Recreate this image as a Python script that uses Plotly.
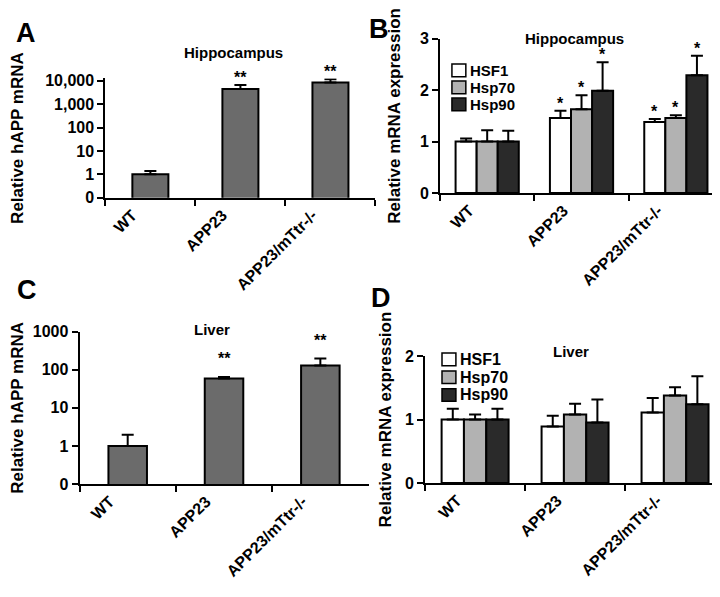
import math
import plotly.graph_objects as go

# ---------------- data ----------------
categories = ["WT", "APP23", "APP23/mTtr-/-"]
series_names = ["HSF1", "Hsp70", "Hsp90"]

# Panel A: hippocampus, relative hAPP mRNA (log scale)
hipp_happ = [1.0, 4500, 8500]
hipp_happ_err = [0.38, 2100, 3200]
hipp_happ_sig = ["", "**", "**"]

# Panel C: liver, relative hAPP mRNA (log scale)
liver_happ = [1.0, 59, 130]
liver_happ_err = [0.97, 6, 68]
liver_happ_sig = ["", "**", "**"]

# Panel B: hippocampus, relative mRNA expression
hipp_hsf1 = [1.00, 1.46, 1.38]
hipp_hsf1_err = [0.06, 0.14, 0.06]
hipp_hsp70 = [1.00, 1.63, 1.46]
hipp_hsp70_err = [0.22, 0.27, 0.05]
hipp_hsp90 = [1.00, 1.99, 2.29]
hipp_hsp90_err = [0.21, 0.55, 0.38]
hipp_hsp_sig = ["", "*", "*"]

# Panel D: liver, relative mRNA expression
liver_hsf1 = [1.00, 0.89, 1.11]
liver_hsf1_err = [0.17, 0.17, 0.23]
liver_hsp70 = [1.00, 1.08, 1.38]
liver_hsp70_err = [0.08, 0.17, 0.13]
liver_hsp90 = [1.00, 0.955, 1.24]
liver_hsp90_err = [0.17, 0.36, 0.44]

tickvals_A = [0.1, 1, 10, 100, 1000, 10000]
ticktext_A = ["0", "1", "10", "100", "1,000", "10,000"]
tickvals_C = [0.1, 1, 10, 100, 1000]
ticktext_C = ["0", "1", "10", "100", "1000"]
tickvals_B = [0, 1, 2, 3]
tickvals_D = [0, 1, 2]

# ---------------- style ----------------
W, H = 720, 597
FONT = "Liberation Sans, Arial, sans-serif"
single_color = "#6b6b6b"
series_colors = ["#ffffff", "#b2b2b2", "#2a2a2a"]
BARGAP = 0.33


def px_x(v):
    return v / W


def px_y(v):
    return 1 - v / H


# pixel frames of the four plot areas: ([left, right], [bottom, top])
dom = {
    "A": ([93, 365], [187, 64.3]),
    "B": ([430, 715], [182.3, 23.3]),
    "C": ([67, 358], [481.7, 325]),
    "D": ([415, 717], [480.7, 350]),
}

fig = go.Figure()


def err(arr):
    return dict(type="data", array=arr, arrayminus=[0] * len(arr), symmetric=False,
                color="black", thickness=2, width=6, visible=True)


# Panel A
fig.add_trace(go.Bar(x=categories, y=hipp_happ, error_y=err(hipp_happ_err), width=0.4,
                     marker=dict(color=single_color, line=dict(color="black", width=2)),
                     xaxis="x", yaxis="y", showlegend=False, cliponaxis=False))
# Panel C
fig.add_trace(go.Bar(x=categories, y=liver_happ, error_y=err(liver_happ_err), width=0.4,
                     marker=dict(color=single_color, line=dict(color="black", width=2)),
                     xaxis="x3", yaxis="y3", showlegend=False))

hipp_series = [(hipp_hsf1, hipp_hsf1_err), (hipp_hsp70, hipp_hsp70_err), (hipp_hsp90, hipp_hsp90_err)]
liver_series = [(liver_hsf1, liver_hsf1_err), (liver_hsp70, liver_hsp70_err), (liver_hsp90, liver_hsp90_err)]

for i, (vals, e) in enumerate(hipp_series):
    fig.add_trace(go.Bar(x=categories, y=vals, error_y=err(e), name=series_names[i],
                         marker=dict(color=series_colors[i], line=dict(color="black", width=2)),
                         xaxis="x2", yaxis="y2", showlegend=False))
for i, (vals, e) in enumerate(liver_series):
    fig.add_trace(go.Bar(x=categories, y=vals, error_y=err(e), name=series_names[i],
                         marker=dict(color=series_colors[i], line=dict(color="black", width=2)),
                         xaxis="x4", yaxis="y4", showlegend=False))

tickfont = dict(family=FONT, size=16, color="black", weight="bold")
titlefont = dict(family=FONT, size=17, color="black", weight="bold")


def xaxis_cfg(key, anchor):
    return dict(domain=[px_x(dom[key][0][0]), px_x(dom[key][0][1])], anchor=anchor,
                type="category", tickson="boundaries", ticks="outside", ticklen=6,
                tickwidth=2, tickcolor="black", showline=True, linecolor="black",
                linewidth=2, tickangle=-45, tickfont=tickfont, showgrid=False,
                ticklabelshift=-18, fixedrange=True)


def yaxis_cfg(key, anchor, title, standoff):
    return dict(domain=[px_y(dom[key][1][0]), px_y(dom[key][1][1])], anchor=anchor,
                ticks="outside", ticklen=6, tickwidth=2, tickcolor="black",
                showline=True, linecolor="black", linewidth=2, showgrid=False,
                zeroline=False, tickfont=tickfont,
                title=dict(text=title, font=titlefont, standoff=standoff))


fig.update_layout(
    width=W, height=H, margin=dict(l=0, r=0, t=0, b=0),
    paper_bgcolor="white", plot_bgcolor="white",
    barmode="group", bargap=BARGAP, bargroupgap=0,
    font=dict(family=FONT, color="black"),
    showlegend=False,
    xaxis=xaxis_cfg("A", "y"),
    xaxis2=xaxis_cfg("B", "y2"),
    xaxis3=xaxis_cfg("C", "y3"),
    xaxis4=xaxis_cfg("D", "y4"),
    yaxis=dict(yaxis_cfg("A", "x", "Relative hAPP mRNA", 21), type="log", range=[-1, 4.1],
               tickvals=tickvals_A, ticktext=ticktext_A),
    yaxis2=dict(yaxis_cfg("B", "x2", "Relative mRNA expression", 15), range=[0, 3],
                tickvals=tickvals_B),
    yaxis3=dict(yaxis_cfg("C", "x3", "Relative hAPP mRNA", 13), type="log", range=[-1, 3],
                tickvals=tickvals_C, ticktext=ticktext_C),
    yaxis4=dict(yaxis_cfg("D", "x4", "Relative mRNA expression", 9), range=[0, 2],
                tickvals=tickvals_D),
)

annotations = []
shapes = []
# panel letters
for letter, (lx, ly) in {"A": (13, 18), "B": (369, 13), "C": (14, 282), "D": (371, 290)}.items():
    annotations.append(dict(text=letter, x=px_x(lx), y=px_y(ly), xref="paper", yref="paper",
                            xanchor="center", yanchor="middle", showarrow=False,
                            font=dict(family=FONT, size=27, color="black", weight="bold")))
# panel titles
for txt, (tx, ty) in [("Hippocampus", (222, 38)), ("Hippocampus", (565, 23)),
                      ("Liver", (200, 323)), ("Liver", (562, 345))]:
    annotations.append(dict(text=txt, x=px_x(tx), y=px_y(ty), xref="paper", yref="paper",
                            xanchor="center", yanchor="middle", showarrow=False,
                            font=dict(family=FONT, size=15, color="black", weight="bold")))

# legends (panel B and D): swatch + label
for (left, first_center, step, fsize) in [(442, 56, 17.5, 15), (432, 353.5, 18.3, 16)]:
    for i, name in enumerate(series_names):
        cy = first_center + i * step
        shapes.append(dict(type="rect", xref="paper", yref="paper",
                           x0=px_x(left), x1=px_x(left + 14), y0=px_y(cy - 6.5), y1=px_y(cy + 6.5),
                           fillcolor=series_colors[i], line=dict(color="black", width=1.5)))
        annotations.append(dict(text=name, x=px_x(left + 16), y=px_y(cy), xref="paper", yref="paper",
                                xanchor="left", yanchor="middle", showarrow=False,
                                font=dict(family=FONT, size=fsize, color="black", weight="bold")))

# significance stars, single-series log panels
for vals, errs, sig, xr, yr, ysh in [(hipp_happ, hipp_happ_err, hipp_happ_sig, "x", "y", -3),
                                     (liver_happ, liver_happ_err, liver_happ_sig, "x3", "y3", 8)]:
    for c, v, e, s in zip(categories, vals, errs, sig):
        if s:
            annotations.append(dict(text=s, x=c, y=math.log10(v + e), xref=xr, yref=yr,
                                    xanchor="center", yanchor="bottom", showarrow=False,
                                    yshift=ysh,
                                    font=dict(family=FONT, size=16, color="black", weight="bold")))

# significance stars, grouped panel B
cat_w = (dom["B"][0][1] - dom["B"][0][0]) / len(categories)
bar_w = cat_w * (1 - BARGAP) / len(series_names)
for i, (vals, e) in enumerate(hipp_series):
    for c, v, ee, s in zip(categories, vals, e, hipp_hsp_sig):
        if s:
            annotations.append(dict(text=s, x=c, y=v + ee, xref="x2", yref="y2",
                                    xanchor="center", yanchor="bottom", showarrow=False,
                                    xshift=(i - 1) * bar_w, yshift=-3,
                                    font=dict(family=FONT, size=16, color="black", weight="bold")))

fig.update_layout(annotations=annotations, shapes=shapes)
fig.write_html("out.html")
